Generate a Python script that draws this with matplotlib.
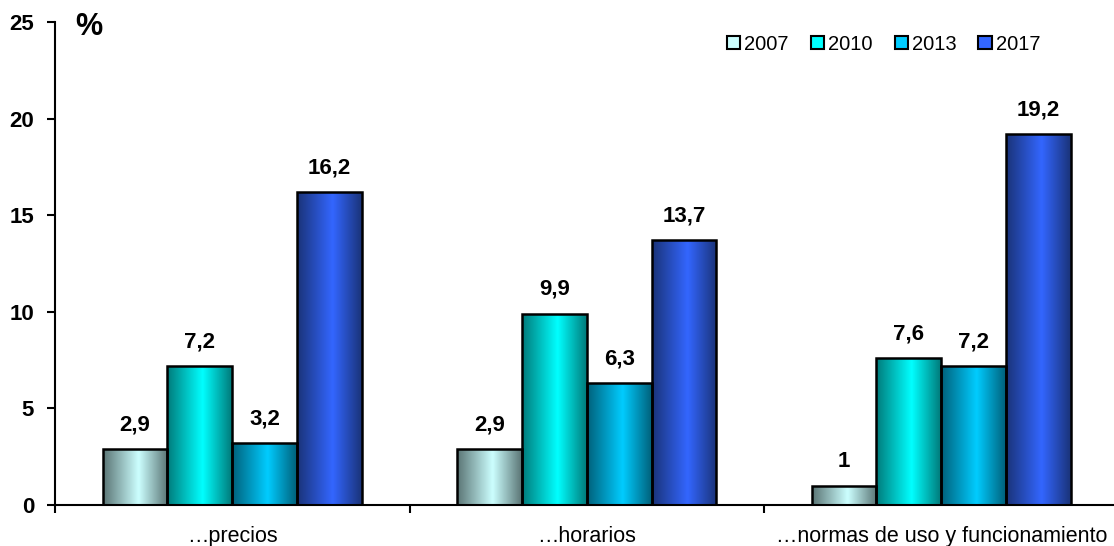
import numpy as np
import matplotlib
matplotlib.use("Agg")
import matplotlib.pyplot as plt
from matplotlib.colors import LinearSegmentedColormap
from matplotlib.patches import Patch

categories = ["…precios", "…horarios", "…normas de uso y funcionamiento"]
years = ["2007", "2010", "2013", "2017"]
values = {
    "2007": [2.9, 2.9, 1.0],
    "2010": [7.2, 9.9, 7.6],
    "2013": [3.2, 6.3, 7.2],
    "2017": [16.2, 13.7, 19.2],
}
value_labels = {
    "2007": ["2,9", "2,9", "1"],
    "2010": ["7,2", "9,9", "7,6"],
    "2013": ["3,2", "6,3", "7,2"],
    "2017": ["16,2", "13,7", "19,2"],
}
# (edge shade, centre highlight) for each series
shades = {
    "2007": ("#5a7474", "#ccffff"),
    "2010": ("#007a7a", "#00ffff"),
    "2013": ("#00607a", "#00ccff"),
    "2017": ("#1a3378", "#3366ff"),
}

plt.rcParams["font.family"] = ["Liberation Sans", "DejaVu Sans"]

W, H = 1114, 546
ax_l, ax_r, ax_t, ax_b = 55, 1118.5, 22, 505
fig = plt.figure(figsize=(W / 100, H / 100), dpi=100)
ax = fig.add_axes([ax_l / W, (H - ax_b) / H, (ax_r - ax_l) / W, (ax_b - ax_t) / H])

bar_w = 0.183
n = len(years)
x = np.arange(len(categories))

for i, yr in enumerate(years):
    offs = (i - (n - 1) / 2) * bar_w
    edge, mid = shades[yr]
    cmap = LinearSegmentedColormap.from_list(
        yr, [(0.0, edge), (0.55, mid), (1.0, edge)])
    grad = np.linspace(0, 1, 256).reshape(1, -1)
    bars = ax.bar(x + offs, values[yr], width=bar_w, facecolor="none",
                  edgecolor="black", linewidth=1.8, zorder=3)
    for b, lab in zip(bars, value_labels[yr]):
        bx, by = b.get_x(), b.get_y()
        bw, bh = b.get_width(), b.get_height()
        im = ax.imshow(grad, cmap=cmap, aspect="auto",
                       extent=[bx, bx + bw, by, by + bh], zorder=2,
                       interpolation="bicubic")
        im.set_clip_path(b)
        ax.annotate(lab, (bx + bw / 2, by + bh), xytext=(0, 13.5),
                    textcoords="offset points", ha="center", va="baseline",
                    fontsize=16, fontweight="bold")

ax.set_xlim(-0.5, 2.5)
ax.set_ylim(0, 25)
ax.set_aspect("auto")

ax.set_yticks([0, 5, 10, 15, 20, 25])
ax.set_yticklabels(["0", "5", "10", "15", "20", "25"], fontsize=16,
                   fontweight="bold")
ax.tick_params(axis="y", direction="out", length=6, width=1.5, pad=9)

ax.set_xticks([-0.5, 0.5, 1.5], minor=False)
ax.set_xticklabels([])
ax.set_xticks(x, minor=True)
ax.set_xticklabels(categories, minor=True, fontsize=15.5)
ax.tick_params(axis="x", which="major", direction="out", length=6, width=1.5)
ax.tick_params(axis="x", which="minor", length=0, pad=15)

for side in ("top", "right"):
    ax.spines[side].set_visible(False)
for side in ("left", "bottom"):
    ax.spines[side].set_linewidth(1.5)

fig.text(75 / W, 1 - 27 / H, "%", fontsize=22, fontweight="bold",
         va="center", ha="left")

handles = [Patch(facecolor=shades[yr][1], edgecolor="black", linewidth=1.5)
           for yr in years]
ax.legend(handles, years, loc="center left",
          bbox_to_anchor=((727 - ax_l) / (ax_r - ax_l), 1 - (44 - ax_t) / (ax_b - ax_t)),
          ncol=4, frameon=False, fontsize=14.5, handlelength=0.65,
          handleheight=0.65, handletextpad=0.2, columnspacing=1.1,
          borderpad=0, borderaxespad=0)

fig.savefig("out.png", dpi=100)
